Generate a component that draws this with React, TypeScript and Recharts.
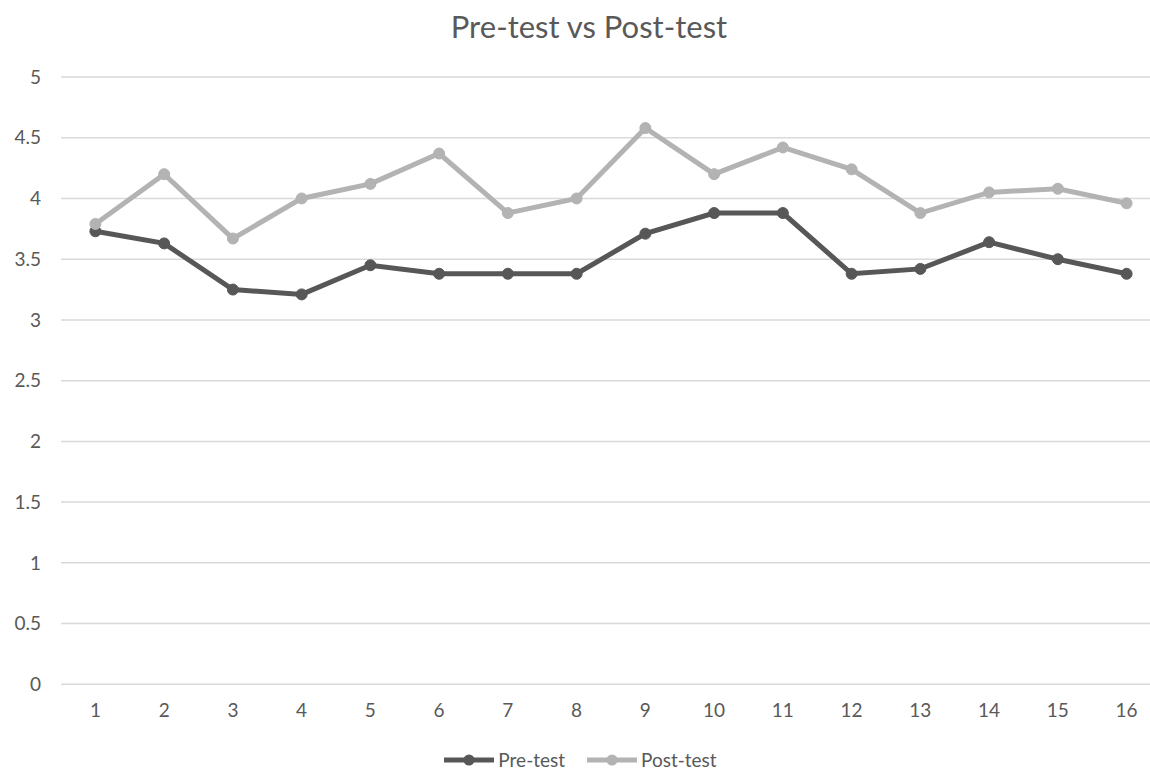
import React from "react";
import { LineChart, Line, XAxis, YAxis, CartesianGrid, Legend } from "recharts";

const categories = ["1", "2", "3", "4", "5", "6", "7", "8", "9", "10", "11", "12", "13", "14", "15", "16"];
const preTest = [3.73, 3.63, 3.25, 3.21, 3.45, 3.38, 3.38, 3.38, 3.71, 3.88, 3.88, 3.38, 3.42, 3.64, 3.5, 3.38];
const postTest = [3.79, 4.2, 3.67, 4.0, 4.12, 4.37, 3.88, 4.0, 4.58, 4.2, 4.42, 4.24, 3.88, 4.05, 4.08, 3.96];
const yTicks = [0, 0.5, 1, 1.5, 2, 2.5, 3, 3.5, 4, 4.5, 5];
const seriesNames = ["Pre-test", "Post-test"];
const title = "Pre-test vs Post-test";

const data = categories.map((c, i) => ({ cat: c, pre: preTest[i], post: postTest[i] }));

const PRE = "#575757";
const POST = "#b3b3b3";
const TEXT = "#595959";
const FONT = "Lato, 'Open Sans', sans-serif";

const LegendContent = (props: any) => {
  const payload = [...(props.payload || [])].sort(
    (a: any, b: any) => seriesNames.indexOf(a.value) - seriesNames.indexOf(b.value)
  );
  return (
    <div style={{ display: "flex", justifyContent: "center", alignItems: "center", height: 24, lineHeight: "22px", fontFamily: FONT, fontSize: 19, color: TEXT }}>
      {payload.map((p: any, i: number) => (
        <div key={i} style={{ display: "flex", alignItems: "center", marginLeft: i ? 22 : 0 }}>
          <svg width={50} height={14} style={{ marginRight: 4 }}>
            <line x1={0} y1={7} x2={50} y2={7} stroke={p.color} strokeWidth={5} />
            <circle cx={25} cy={7} r={5.5} fill={p.color} />
          </svg>
          <span>{p.value}</span>
        </div>
      ))}
    </div>
  );
};

export default function App() {
  return (
    <div style={{ position: "absolute", left: 0, top: 0, width: 1150, height: 772, overflow: "hidden", background: "#fff" }}>
      <div style={{ position: "absolute", left: 0, top: 7, width: 1178, textAlign: "center", fontFamily: FONT, fontSize: 31, color: TEXT }}>
        {title}
      </div>
      <LineChart width={1180} height={772} data={data} margin={{ top: 77, right: 19, left: 0, bottom: 0 }}>
        <CartesianGrid horizontal vertical={false} stroke="#d9d9d9" strokeWidth={1.5} />
        <XAxis
          dataKey="cat"
          axisLine={false}
          tickLine={false}
          tickSize={0}
          tickMargin={19}
          height={63.7}
          padding={{ left: 34.4, right: 34.4 }}
          tick={{ fill: TEXT, fontSize: 19, fontFamily: FONT }}
          interval={0}
        />
        <YAxis
          domain={[0, 5]}
          ticks={yTicks}
          axisLine={false}
          tickLine={false}
          tickSize={0}
          tickMargin={20}
          width={61}
          tick={{ fill: TEXT, fontSize: 19, fontFamily: FONT }}
          interval={0}
        />
        <Legend verticalAlign="bottom" align="center" content={<LegendContent />} />
        <Line
          type="linear"
          dataKey="pre"
          name={seriesNames[0]}
          stroke={PRE}
          strokeWidth={5}
          dot={{ r: 5.5, fill: PRE, stroke: PRE, strokeWidth: 1 }}
          isAnimationActive={false}
        />
        <Line
          type="linear"
          dataKey="post"
          name={seriesNames[1]}
          stroke={POST}
          strokeWidth={5}
          dot={{ r: 5.5, fill: POST, stroke: POST, strokeWidth: 1 }}
          isAnimationActive={false}
        />
      </LineChart>
    </div>
  );
}
